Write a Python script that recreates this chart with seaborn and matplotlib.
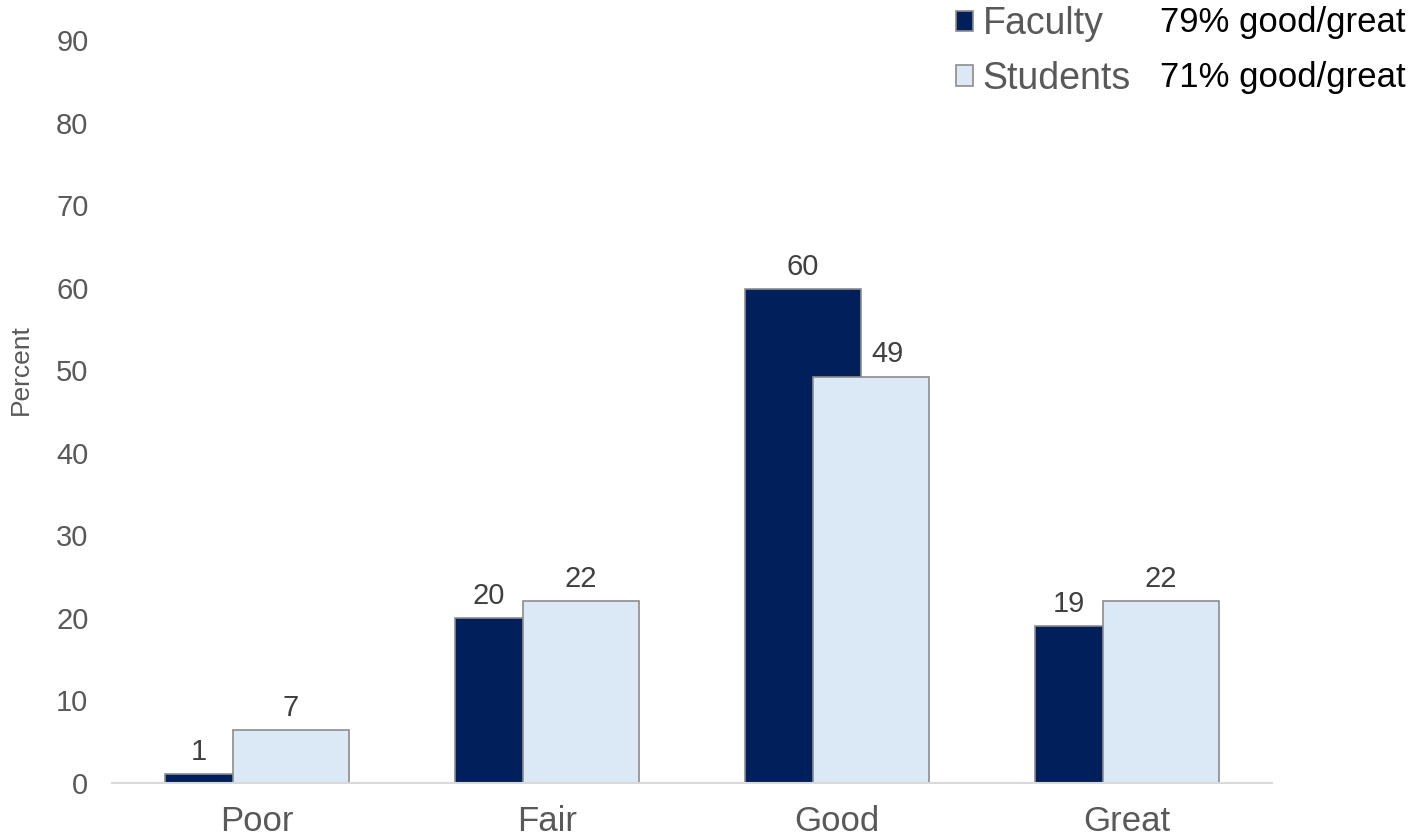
import pandas as pd
import matplotlib.pyplot as plt
import seaborn as sns

# Survey ratings, percent of respondents
ratings = ['Poor', 'Fair', 'Good', 'Great']
groups = ['Faculty', 'Students']
faculty_pct = [1.1, 20, 59.8, 19]
students_pct = [6.4, 22, 49.2, 22]
faculty_labels = ['1', '20', '60', '19']
students_labels = ['7', '22', '49', '22']
summary_text = ['79% good/great', '71% good/great']
y_ticks = [0, 10, 20, 30, 40, 50, 60, 70, 80, 90]

NAVY = '#001f5b'
LIGHT = '#dbe8f5'
EDGE = '#8c8c8c'
GRAY_TXT = '#595959'

sns.set_theme(style='white')
plt.rcParams['font.family'] = ['Liberation Sans', 'DejaVu Sans']

df = pd.DataFrame({
    'rating': ratings * 2,
    'group': [groups[0]] * 4 + [groups[1]] * 4,
    'pct': faculty_pct + students_pct,
})

fig = plt.figure(figsize=(14.2, 8.4), dpi=100)
ax = fig.add_axes([0.0789, 0.0679, 0.8169, 0.8845])

# overlapping bars: negative gap widens dodged bars so students sit over faculty
sns.barplot(data=df, x='rating', y='pct', hue='group', order=ratings,
            hue_order=groups, palette=[NAVY, LIGHT], saturation=1,
            width=0.467, gap=-0.713, edgecolor=EDGE, linewidth=1.2, ax=ax)

ax.set_xlim(-0.5, 3.5)
ax.set_ylim(0, 90)
ax.set_yticks(y_ticks)
ax.set_ylabel('Percent', fontsize=19, color=GRAY_TXT)
ax.yaxis.set_label_coords(-0.068, 0.556)
ax.set_xlabel('')
ax.tick_params(axis='y', labelsize=21, colors=GRAY_TXT, length=0, pad=17)
ax.tick_params(axis='x', labelsize=25, colors=GRAY_TXT, length=0, pad=16)
for side in ['top', 'right', 'left']:
    ax.spines[side].set_visible(False)
ax.spines['bottom'].set_color('#d9d9d9')
ax.spines['bottom'].set_linewidth(1.5)

# value labels, nudged off the neighbouring bar where they would collide
fac_bars, stu_bars = ax.containers[0], ax.containers[1]
lbl = dict(textcoords='offset points', va='bottom', fontsize=21, color='#404040')
for fb, sb, fl, sl in zip(fac_bars, stu_bars, faculty_labels, students_labels):
    fh, sh = fb.get_height(), sb.get_height()
    if sh > fh:
        fx = (fb.get_x() + sb.get_x()) / 2
    else:
        fx = fb.get_x() + fb.get_width() / 2
    ax.annotate(fl, (fx, fh), xytext=(0, 6), ha='center', **lbl)
    if fh > sh:
        ax.annotate(sl, (fb.get_x() + fb.get_width(), sh), xytext=(7, 6),
                    ha='left', **lbl)
    else:
        ax.annotate(sl, (sb.get_x() + sb.get_width() / 2, sh), xytext=(0, 6),
                    ha='center', **lbl)

sns.move_legend(ax, loc='upper left', bbox_to_anchor=(0.655, 1.024),
                bbox_transform=fig.transFigure, frameon=False, title=None,
                fontsize=27, handlelength=0.45, handleheight=0.45,
                handletextpad=0.25, labelspacing=0.5, borderpad=0.2)
for t in ax.get_legend().get_texts():
    t.set_color(GRAY_TXT)

for i, txt in enumerate(summary_text):
    fig.text(0.817, 0.973 - i * 0.065, txt, fontsize=25, color='black',
             va='center', ha='left')

fig.savefig('out.png', dpi=100)
